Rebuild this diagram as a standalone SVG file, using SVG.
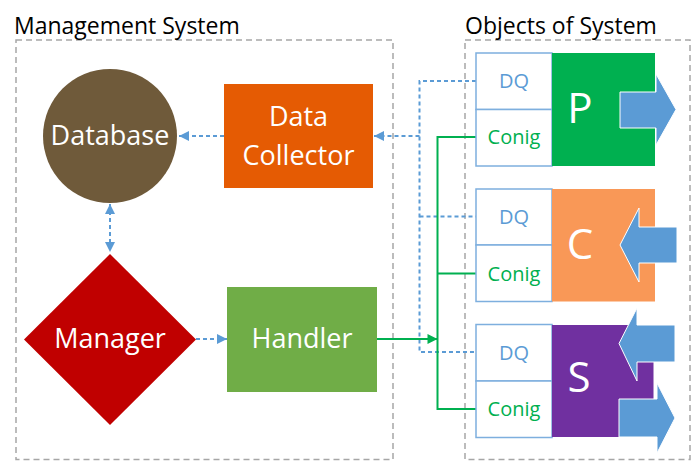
<svg xmlns="http://www.w3.org/2000/svg" width="693" height="462" viewBox="0 0 693 462">
<style>
text{font-family:"Open Sans","Noto Sans","Liberation Sans",sans-serif;text-anchor:middle}
.title{font-size:23px;fill:#000;text-anchor:start}
.lbl{font-size:27px;fill:#fff}
.big{font-size:42px;fill:#fff}
.dq{font-size:20px;fill:#5B9BD5}
.cf{font-size:20px;fill:#00B050}
.frame{fill:none;stroke:#A6A6A6;stroke-width:1.5;stroke-dasharray:6 4}
.cell{fill:#fff;stroke:#7EAFDE;stroke-width:1.5}
.blue{fill:none;stroke:#5B9BD5;stroke-width:2;stroke-dasharray:4 3}
.green{fill:none;stroke:#00B050;stroke-width:2}
.barrow{fill:#5B9BD5;stroke:#fff;stroke-width:1}
</style>
<defs>
<marker id="ab" viewBox="0 0 10 10" refX="10" refY="5" markerWidth="11" markerHeight="10" markerUnits="userSpaceOnUse" orient="auto-start-reverse"><path d="M0,0 L10,5 L0,10 z" fill="#5B9BD5"/></marker>
<marker id="ag" viewBox="0 0 10 10" refX="10" refY="5" markerWidth="11" markerHeight="10" markerUnits="userSpaceOnUse" orient="auto"><path d="M0,0 L10,5 L0,10 z" fill="#00B050"/></marker>
</defs>
<rect width="693" height="462" fill="#fff"/>
<g id="management-system">
<rect class="frame" x="16" y="40" width="377" height="419.5"/>
<text class="title" x="14" y="34">Management System</text>
</g>
<g id="objects-of-system">
<rect class="frame" x="465" y="40" width="225" height="419.5"/>
<text class="title" x="465" y="34">Objects of System</text>
</g>
<g id="connectors">
<line class="blue" x1="224" y1="136" x2="179" y2="136" marker-end="url(#ab)"/>
<line class="blue" x1="110" y1="204" x2="110" y2="252" marker-start="url(#ab)" marker-end="url(#ab)"/>
<line class="blue" x1="196" y1="339" x2="227" y2="339" marker-end="url(#ab)"/>
<polyline class="blue" points="476,81 419.5,81 419.5,352 476,352"/>
<line class="blue" x1="419.5" y1="216.5" x2="476" y2="216.5"/>
<line class="blue" x1="419.5" y1="136" x2="374" y2="136" marker-end="url(#ab)"/>
<line class="green" x1="377" y1="339" x2="437.5" y2="339" marker-end="url(#ag)"/>
<polyline class="green" points="476,137 437.5,137 437.5,409 476,409"/>
<line class="green" x1="437.5" y1="273.5" x2="476" y2="273.5"/>
</g>
<g id="database">
<circle cx="110" cy="136" r="67" fill="#6F5A3A"/>
<text class="lbl" x="110" y="145">Database</text>
</g>
<g id="data-collector">
<rect x="224" y="84" width="149" height="104" fill="#E55B03"/>
<text class="lbl" x="298.5" y="126">Data</text>
<text class="lbl" x="298.5" y="165">Collector</text>
</g>
<g id="manager">
<polygon points="110,254 196,339.5 110,425 24,339.5" fill="#C00000"/>
<text class="lbl" x="110" y="348">Manager</text>
</g>
<g id="handler">
<rect x="227" y="287" width="150" height="105" fill="#70AD47"/>
<text class="lbl" x="302" y="348">Handler</text>
</g>
<g id="object-p">
<rect class="cell" x="476" y="53" width="76" height="56.5"/>
<rect class="cell" x="476" y="109.5" width="76" height="56.5"/>
<text class="dq" x="514" y="88">DQ</text>
<text class="cf" x="514" y="144">Conig</text>
<rect x="552" y="53" width="103" height="113" fill="#00B050"/>
<text class="big" x="580" y="123">P</text>
<polygon class="barrow" points="620,92 656,92 656,74 676,109.5 656,145 656,128 620,128"/>
</g>
<g id="object-c">
<rect class="cell" x="476" y="189" width="76" height="56"/>
<rect class="cell" x="476" y="245" width="76" height="56.5"/>
<text class="dq" x="514" y="224">DQ</text>
<text class="cf" x="514" y="281">Conig</text>
<rect x="552" y="189" width="103" height="112.5" fill="#F99857"/>
<text class="big" x="580" y="259">C</text>
<polygon class="barrow" points="620,245 639,208 639,227 677,227 677,263 639,263 639,282"/>
</g>
<g id="object-s">
<rect class="cell" x="476" y="324.5" width="76" height="56.5"/>
<rect class="cell" x="476" y="381" width="76" height="56.5"/>
<text class="dq" x="514" y="359.5">DQ</text>
<text class="cf" x="514" y="415.5">Conig</text>
<rect x="552" y="325" width="101.5" height="112" fill="#7030A0"/>
<text class="big" x="579" y="392">S</text>
<polygon class="barrow" points="619,343.5 637,308 637,325 675,325 675,362 637,362 637,381"/>
<polygon class="barrow" points="619,399 657,399 657,383 675,418 657,453 657,437 619,437"/>
</g>
</svg>
